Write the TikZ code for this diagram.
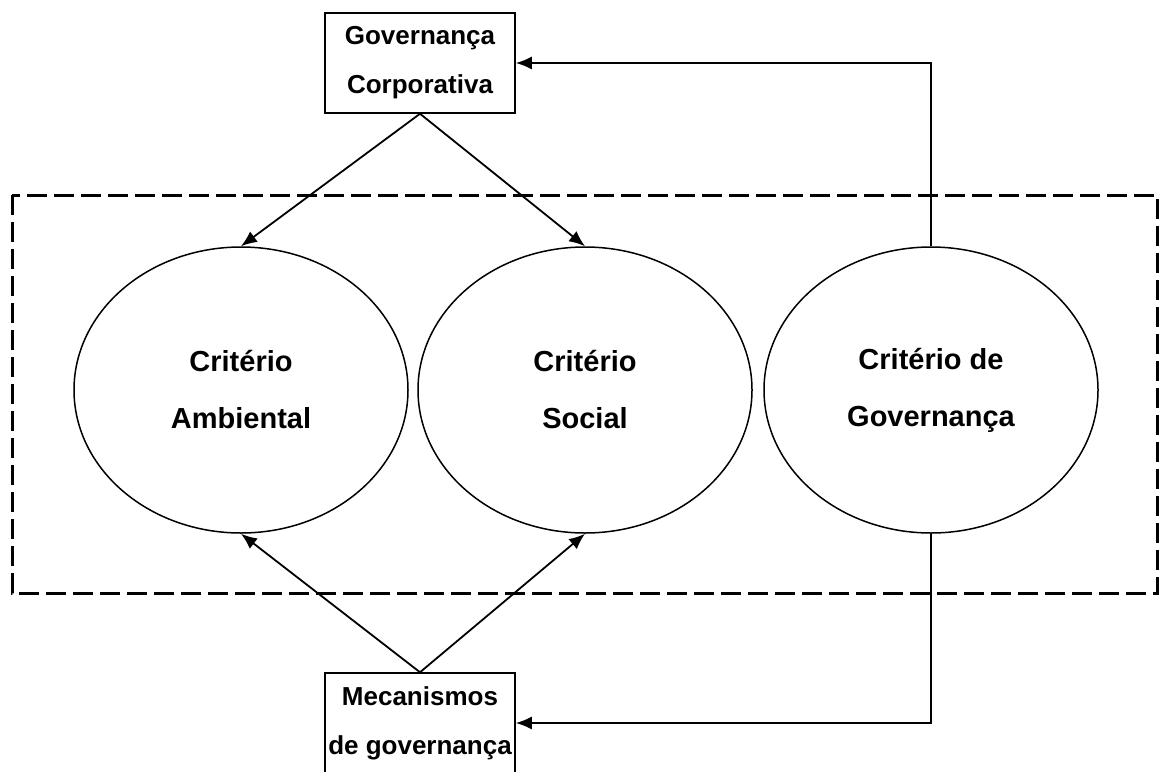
\documentclass[tikz,border=0pt]{standalone}
\usepackage{fontspec}
\setmainfont{Liberation Sans}
\usetikzlibrary{positioning,shapes.geometric,arrows.meta,calc}

\begin{document}
\begin{tikzpicture}[x=1pt,y=-1pt,
  crit/.style={ellipse,draw,line width=1.5pt,minimum width=334pt,minimum height=286pt,
    inner sep=0pt,align=center,font=\fontsize{29}{57}\selectfont\bfseries},
  caixa/.style={rectangle,draw,line width=1.5pt,minimum width=190pt,minimum height=100pt,
    inner sep=0pt,align=center,font=\fontsize{26}{49}\selectfont\bfseries},
  seta/.style={line width=1.8pt,-{Latex[length=16pt,width=13pt]}}]
  \useasboundingbox (0,0) rectangle (1161,771);
  \def\ey{390} % height of the three ellipses
  % dashed frame round the criteria
  \draw[line width=3pt,dash pattern=on 20pt off 7pt] (12,195) rectangle (1157,593);
  % the three criteria
  \foreach \x/\n/\t in {241/amb/{Critério\\Ambiental},585/soc/{Critério\\Social},931/gov/{Critério de\\Governança}} {
    \node[crit] (\n) at (\x,\ey) {\t};
  }
  % the two boxes
  \node[caixa] (corp) at (420,63) {Governança\\Corporativa};
  \node[caixa] (mec) at (420,723) {Mecanismos\\de governança};
  % arrows
  \draw[seta] (corp.south) -- (amb.north);
  \draw[seta] (corp.south) -- (soc.north);
  \draw[seta] (mec.north) -- (amb.south);
  \draw[seta] (mec.north) -- (soc.south);
  \draw[seta] (gov.north) |- (corp.east);
  \draw[seta] (gov.south) |- (mec.east);
\end{tikzpicture}
\end{document}
